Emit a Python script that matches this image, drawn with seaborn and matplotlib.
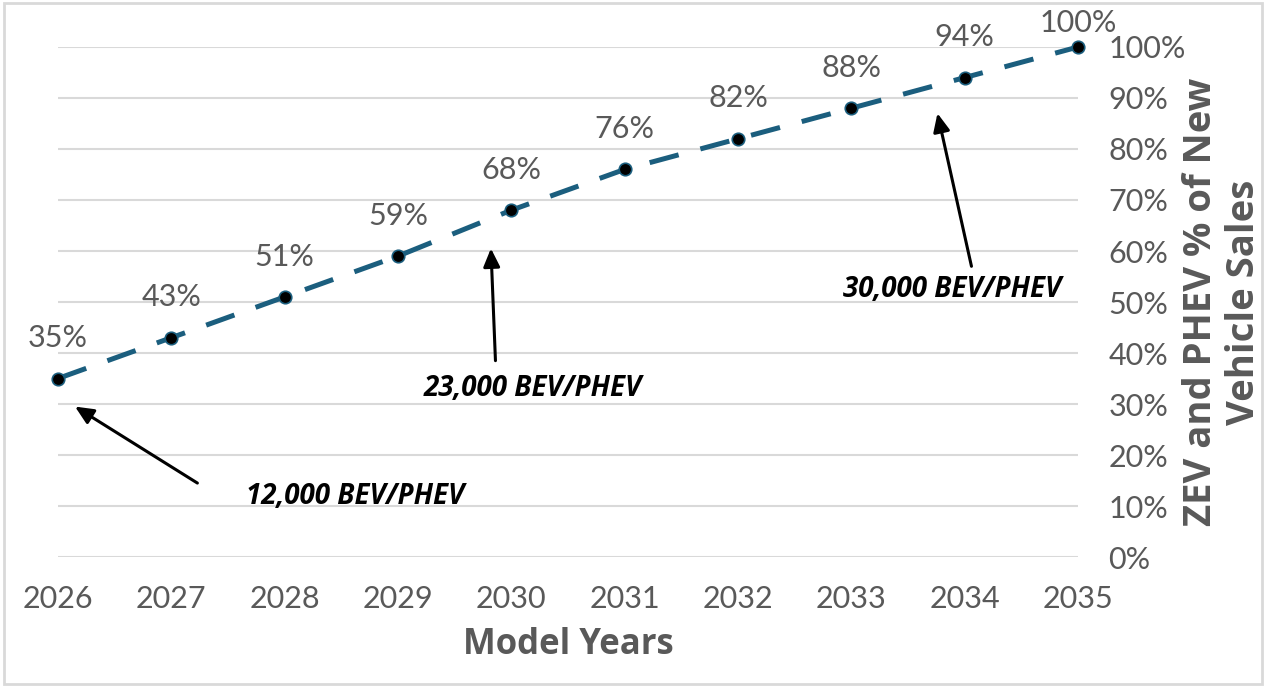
import pandas as pd
import seaborn as sns
import matplotlib.pyplot as plt
from matplotlib.patches import Rectangle

years = [2026, 2027, 2028, 2029, 2030, 2031, 2032, 2033, 2034, 2035]
share = [35, 43, 51, 59, 68, 76, 82, 88, 94, 100]
notes = ["12,000 BEV/PHEV", "23,000 BEV/PHEV", "30,000 BEV/PHEV"]
note_heads = [(2026.15, 29.5), (2029.82, 60.5), (2033.76, 87)]
note_tails = [(2027.23, 14.5), (2029.86, 38.5), (2034.06, 57)]
note_text = [(2028.62, 11.8), (2030.19, 33.0), (2033.89, 52.4)]

df = pd.DataFrame({"Year": years, "Share": share})

sns.set_style("white")
plt.rcParams['font.family'] = ['Lato', 'DejaVu Sans']
gray = '#595959'
blue = '#1B5E7E'
bold_font = ['Open Sans', 'DejaVu Sans']

fig = plt.figure(figsize=(12.66, 6.87), dpi=100)
ax = fig.add_axes([0.0458, 0.1892, 0.8057, 0.7424])

sns.lineplot(data=df, x='Year', y='Share', ax=ax, color=blue, linewidth=3.6,
             linestyle=(0, (6, 4.5)), marker='o', markersize=9,
             markerfacecolor='black', markeredgecolor=blue, markeredgewidth=1.2,
             clip_on=False, zorder=3)

# data labels (last one sits closer to its point)
for x, y in zip(years, share):
    off = 7 if y == 100 else 19
    ax.annotate(f"{y}%", (x, y), xytext=(0, off), textcoords='offset points',
                ha='center', va='bottom', fontsize=22, color=gray)

# BEV/PHEV arrows
for txt, head, tail, pos in zip(notes, note_heads, note_tails, note_text):
    ax.annotate("", xy=head, xytext=tail,
                arrowprops=dict(arrowstyle='-|>,head_length=1.1,head_width=0.5',
                                color='black', lw=2.2, shrinkA=0, shrinkB=0))
    ax.text(pos[0], pos[1], txt, ha='center', va='center', fontsize=20,
            fontweight='bold', fontstyle='italic', color='black', family=bold_font)

ax.set_xlim(2026, 2035)
ax.set_ylim(0, 100)
ax.set_xticks(years)
ax.set_yticks(range(0, 101, 10))
ax.set_yticklabels([f"{v}%" for v in range(0, 101, 10)])
ax.yaxis.tick_right()
ax.yaxis.set_label_position('right')
ax.tick_params(axis='y', length=0, pad=22, labelsize=22, labelcolor=gray)
ax.tick_params(axis='x', length=0, pad=20, labelsize=22, labelcolor=gray)
ax.grid(axis='y', color='#d9d9d9', linewidth=1.5)
ax.grid(axis='x', visible=False)
for s in ax.spines.values():
    s.set_visible(False)

ax.set_xlabel("Model Years", fontsize=25, fontweight='bold', color=gray, labelpad=10,
              family=bold_font)
ax.set_ylabel("ZEV and PHEV % of New\nVehicle Sales", fontsize=27.5, fontweight='bold',
              color=gray, rotation=90, labelpad=-3, linespacing=1.17,
              family=bold_font)

fig.add_artist(Rectangle((0.003, 0.005), 0.994, 0.99, transform=fig.transFigure,
                         fill=False, edgecolor='#d9d9d9', linewidth=2))

fig.savefig("out.png", dpi=100)
